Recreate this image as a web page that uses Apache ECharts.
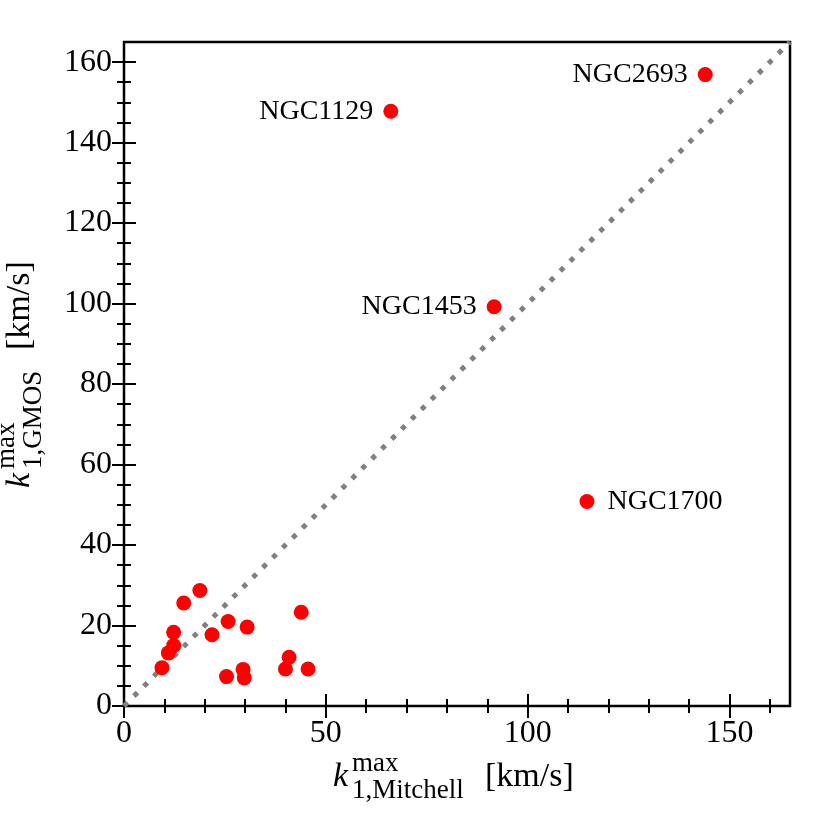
<!DOCTYPE html>
<html>
<head>
<meta charset="utf-8">
<script src="https://cdn.jsdelivr.net/npm/echarts@6/dist/echarts.min.js"></script>
<style>
html,body{margin:0;padding:0;background:#fff;}
#main{width:831px;height:831px;}
</style>
</head>
<body>
<div id="main"></div>
<script>
// k1max from Mitchell (x) vs GMOS (y), km/s
var xMitchell = [9.4, 11.0, 12.3, 12.3, 14.8, 18.8, 21.8, 25.8, 25.4, 29.5, 29.8, 30.5, 40.0, 40.9, 43.9, 45.6, 66.1, 144.0, 91.7, 114.7];
var yGMOS = [9.5, 13.2, 15.0, 18.3, 25.6, 28.7, 17.7, 21.0, 7.3, 9.1, 7.0, 19.6, 9.2, 12.1, 23.3, 9.2, 147.8, 156.9, 99.2, 50.8];
var galaxyNames = ['', '', '', '', '', '', '', '', '', '', '', '', '', '', '', '', 'NGC1129', 'NGC2693', 'NGC1453', 'NGC1700'];
var labelSide = ['', '', '', '', '', '', '', '', '', '', '', '', '', '', '', '', 'left', 'left', 'left', 'right'];
var oneToOne = [[0, 0], [165, 165]];
var xMajor = [0, 50, 100, 150];
var xMinor = [10, 20, 30, 40, 60, 70, 80, 90, 110, 120, 130, 140, 160];
var yMajor = [0, 20, 40, 60, 80, 100, 120, 140, 160];
var yMinor = [5, 10, 15, 25, 30, 35, 45, 50, 55, 65, 70, 75, 85, 90, 95, 105, 110, 115, 125, 130, 135, 145, 150, 155];

var serif = '"Liberation Serif", "DejaVu Serif", serif';

var dom = document.getElementById('main');
var myChart = echarts.init(dom, null, {renderer: 'canvas'});

var pts = [];
for (var i = 0; i < xMitchell.length; i++) {
    var p = {value: [xMitchell[i], yGMOS[i]], name: galaxyNames[i]};
    if (galaxyNames[i]) {
        p.label = {
            show: true,
            position: labelSide[i],
            distance: labelSide[i] === 'right' ? 13 : 10,
            formatter: '{b}',
            color: '#000',
            fontFamily: serif,
            fontSize: 28
        };
    }
    pts.push(p);
}

var gridBox = {left: 124, top: 42, right: 41, bottom: 125};

function xAx(gi, pos, major, labels) {
    return {
        type: 'value', gridIndex: gi, position: pos,
        min: 0, max: 165,
        axisLine: {show: false},
        splitLine: {show: false},
        axisTick: {
            show: true, inside: true,
            customValues: major ? xMajor : xMinor,
            length: major ? 12 : 7,
            lineStyle: {color: '#000', width: 2}
        },
        axisLabel: {
            show: labels,
            customValues: xMajor,
            margin: 12,
            color: '#000',
            fontFamily: serif,
            fontSize: 32
        }
    };
}

function yAx(gi, pos, major, labels) {
    return {
        type: 'value', gridIndex: gi, position: pos,
        min: 0, max: 165,
        axisLine: {show: false},
        splitLine: {show: false},
        axisTick: {
            show: true, inside: true,
            customValues: major ? yMajor : yMinor,
            length: major ? 12 : 7,
            lineStyle: {color: '#000', width: 2}
        },
        axisLabel: {
            show: labels,
            customValues: yMajor,
            margin: 12,
            color: '#000',
            fontFamily: serif,
            fontSize: 32
        }
    };
}

// axis title: k with stacked super/subscript
function axisTitle(x, y, rot, sub, unitOffset) {
    return {
        type: 'group', x: x, y: y, rotation: rot,
        children: [
            {type: 'text', x: 0, y: -11, style: {text: 'k', fill: '#000', font: 'italic 34px ' + serif, verticalAlign: 'middle'}},
            {type: 'text', x: 19, y: -24, style: {text: 'max', fill: '#000', font: '27px ' + serif, verticalAlign: 'middle'}},
            {type: 'text', x: 19, y: 3, style: {text: sub, fill: '#000', font: '27px ' + serif, verticalAlign: 'middle'}},
            {type: 'text', x: unitOffset, y: -11, style: {text: '[km/s]', fill: '#000', font: '34px ' + serif, verticalAlign: 'middle'}}
        ]
    };
}

var option = {
    backgroundColor: '#fff',
    animation: false,
    grid: [
        {left: gridBox.left, top: gridBox.top, right: gridBox.right, bottom: gridBox.bottom,
            show: true, borderColor: '#000', borderWidth: 2.5, backgroundColor: 'transparent'},
        {left: gridBox.left, top: gridBox.top, right: gridBox.right, bottom: gridBox.bottom}
    ],
    xAxis: [
        xAx(0, 'bottom', true, true),
        xAx(0, 'top', true, false),
        xAx(1, 'bottom', false, false),
        xAx(1, 'top', false, false)
    ],
    yAxis: [
        yAx(0, 'left', true, true),
        yAx(0, 'right', true, false),
        yAx(1, 'left', false, false),
        yAx(1, 'right', false, false)
    ],
    graphic: [
        axisTitle(333, 788, 0, '1,Mitchell', 152),
        axisTitle(31, 488, Math.PI / 2, '1,GMOS', 138)
    ],
    series: [
        {
            type: 'line',
            xAxisIndex: 0, yAxisIndex: 0,
            data: oneToOne,
            symbol: 'none',
            z: 2,
            lineStyle: {color: '#808080', width: 5, type: [5, 9], cap: 'butt'}
        },
        {
            type: 'scatter',
            xAxisIndex: 0, yAxisIndex: 0,
            data: pts,
            symbol: 'circle',
            symbolSize: 15,
            z: 3,
            itemStyle: {color: '#ff0000', opacity: 1}
        }
    ]
};

myChart.setOption(option);
window.addEventListener('resize', function () {
    myChart.resize();
});
</script>
</body>
</html>
